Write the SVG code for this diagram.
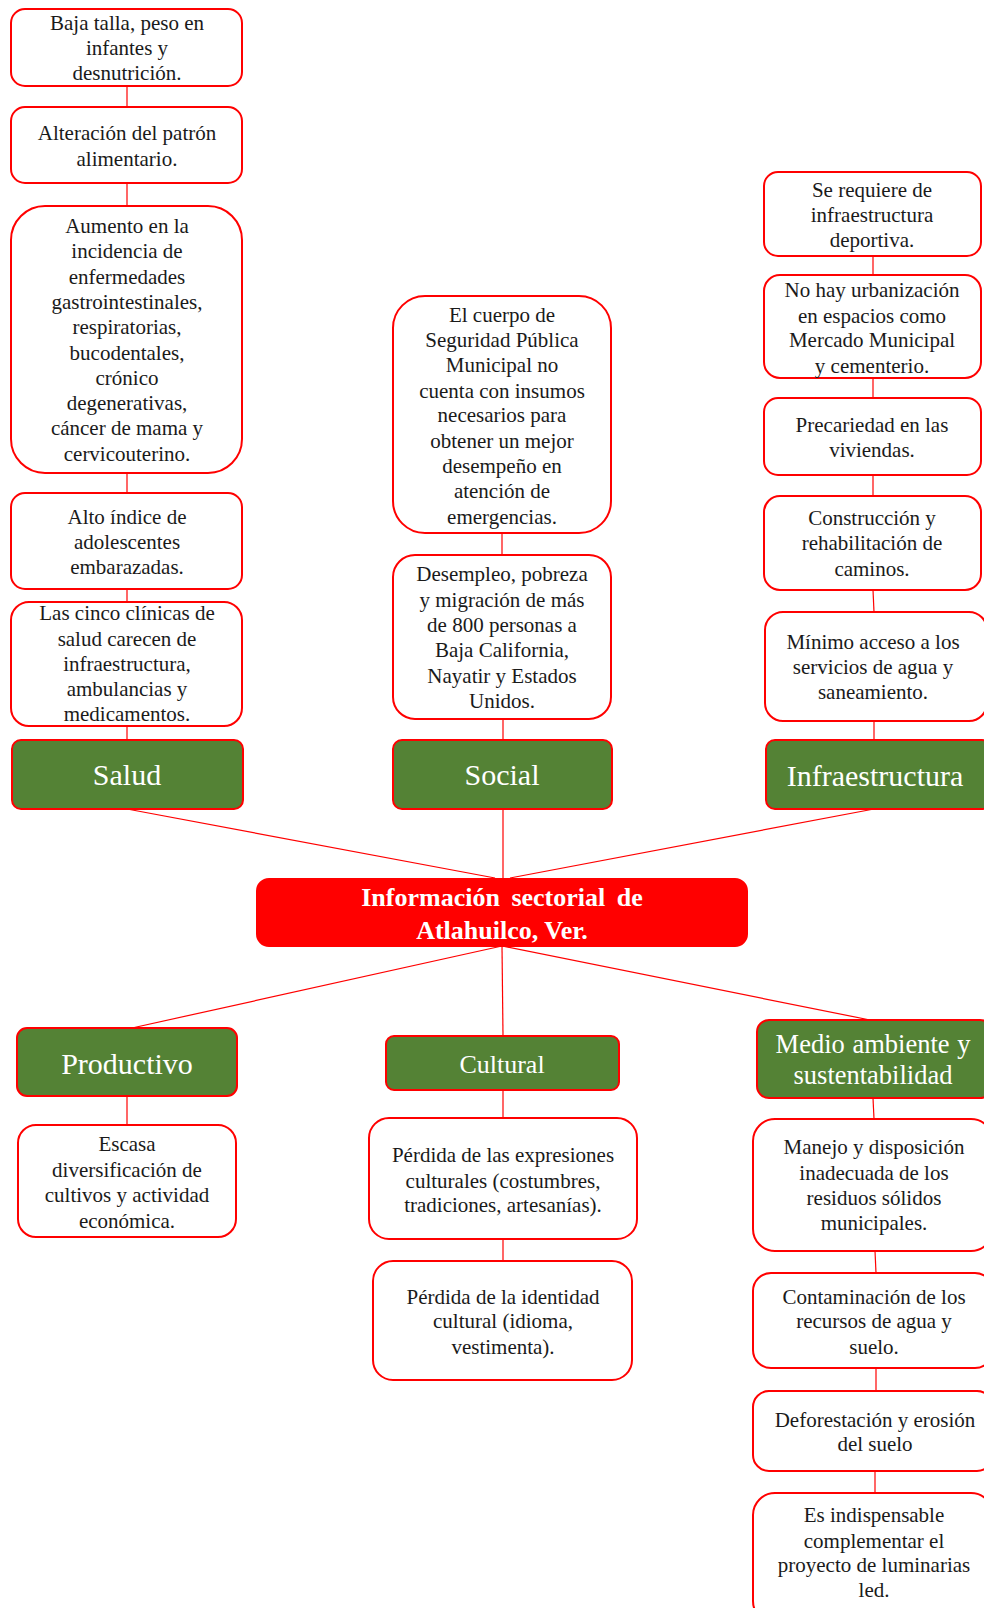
<svg xmlns="http://www.w3.org/2000/svg" width="984" height="1608" viewBox="0 0 984 1608">
<style>
.box{fill:#ffffff;stroke:#ff0000;stroke-width:2}
.hdr{fill:#548235;stroke:#ff0000;stroke-width:2}
.ctr{fill:#ff0000;stroke:#ff0000;stroke-width:2}
.t{font-family:"Liberation Serif","Times New Roman",serif;font-size:21px;fill:#1a1a1a;text-anchor:middle}
.h{font-family:"Liberation Serif","Times New Roman",serif;font-size:30px;fill:#ffffff;text-anchor:middle}
.c{font-family:"Liberation Serif","Times New Roman",serif;font-size:26px;font-weight:bold;fill:#ffffff;text-anchor:middle}
.ln{stroke:#ff0000;stroke-width:1.2;fill:none}
</style>
<rect width="984" height="1608" fill="#ffffff"/>
<g id="connectors">
<line class="ln" x1="127" y1="86" x2="127" y2="107"/>
<line class="ln" x1="127" y1="183" x2="127" y2="206"/>
<line class="ln" x1="127" y1="473" x2="127" y2="493"/>
<line class="ln" x1="127" y1="589" x2="127" y2="602"/>
<line class="ln" x1="127" y1="726" x2="127" y2="740"/>
<line class="ln" x1="502" y1="533" x2="502" y2="555"/>
<line class="ln" x1="503" y1="719" x2="503" y2="740"/>
<line class="ln" x1="873" y1="256" x2="873" y2="275"/>
<line class="ln" x1="873" y1="378" x2="873" y2="398"/>
<line class="ln" x1="873" y1="475" x2="873" y2="496"/>
<line class="ln" x1="873" y1="590" x2="874" y2="612"/>
<line class="ln" x1="874" y1="721" x2="874" y2="740"/>
<line class="ln" x1="127" y1="809" x2="495" y2="878"/>
<line class="ln" x1="503" y1="809" x2="503" y2="878"/>
<line class="ln" x1="874" y1="809" x2="510" y2="878"/>
<line class="ln" x1="502" y1="946" x2="132" y2="1028"/>
<line class="ln" x1="502" y1="946" x2="503" y2="1036"/>
<line class="ln" x1="502" y1="946" x2="870" y2="1020"/>
<line class="ln" x1="127" y1="1096" x2="127" y2="1125"/>
<line class="ln" x1="503" y1="1090" x2="503" y2="1118"/>
<line class="ln" x1="503" y1="1239" x2="503" y2="1261"/>
<line class="ln" x1="873" y1="1098" x2="874" y2="1119"/>
<line class="ln" x1="875" y1="1251" x2="876" y2="1273"/>
<line class="ln" x1="876" y1="1368" x2="876" y2="1391"/>
<line class="ln" x1="875" y1="1471" x2="875" y2="1493"/>
</g>
<g id="salud-1"><rect class="box" x="11" y="9" width="231" height="77" rx="14"/>
<text class="t" x="127" y="29.5">Baja talla, peso en</text><text class="t" x="127" y="55">infantes y</text><text class="t" x="127" y="80">desnutrición.</text></g>
<g id="salud-2"><rect class="box" x="11" y="107" width="231" height="76" rx="14"/>
<text class="t" x="127" y="140">Alteración del patrón</text><text class="t" x="127" y="166">alimentario.</text></g>
<g id="salud-3"><rect class="box" x="11" y="206" width="231" height="267" rx="34"/>
<text class="t" x="127" y="232.5">Aumento en la</text><text class="t" x="127" y="258">incidencia de</text><text class="t" x="127" y="284">enfermedades</text><text class="t" x="127" y="309">gastrointestinales,</text><text class="t" x="127" y="334">respiratorias,</text><text class="t" x="127" y="359.5">bucodentales,</text><text class="t" x="127" y="385">crónico</text><text class="t" x="127" y="410">degenerativas,</text><text class="t" x="127" y="435">cáncer de mama y</text><text class="t" x="127" y="461">cervicouterino.</text></g>
<g id="salud-4"><rect class="box" x="11" y="493" width="231" height="96" rx="14"/>
<text class="t" x="127" y="524">Alto índice de</text><text class="t" x="127" y="549">adolescentes</text><text class="t" x="127" y="574">embarazadas.</text></g>
<g id="salud-5"><rect class="box" x="11" y="602" width="231" height="124" rx="18"/>
<text class="t" x="127" y="620">Las cinco clínicas de</text><text class="t" x="127" y="645.5">salud carecen de</text><text class="t" x="127" y="671">infraestructura,</text><text class="t" x="127" y="696">ambulancias y</text><text class="t" x="127" y="721">medicamentos.</text></g>
<g id="salud"><rect class="hdr" x="12" y="740" width="231" height="69" rx="9"/>
<text class="h" x="127" y="785">Salud</text></g>
<g id="social-1"><rect class="box" x="393" y="296" width="218" height="237" rx="32"/>
<text class="t" x="502" y="322">El cuerpo de</text><text class="t" x="502" y="347">Seguridad Pública</text><text class="t" x="502" y="372">Municipal no</text><text class="t" x="502" y="397.5">cuenta con insumos</text><text class="t" x="502" y="422">necesarios para</text><text class="t" x="502" y="448">obtener un mejor</text><text class="t" x="502" y="473">desempeño en</text><text class="t" x="502" y="498">atención de</text><text class="t" x="502" y="523.5">emergencias.</text></g>
<g id="social-2"><rect class="box" x="393" y="555" width="218" height="164" rx="22"/>
<text class="t" x="502" y="581">Desempleo, pobreza</text><text class="t" x="502" y="607">y migración de más</text><text class="t" x="502" y="632">de 800 personas a</text><text class="t" x="502" y="657">Baja California,</text><text class="t" x="502" y="682.5">Nayatir y Estados</text><text class="t" x="502" y="708">Unidos.</text></g>
<g id="social"><rect class="hdr" x="393" y="740" width="219" height="69" rx="9"/>
<text class="h" x="502" y="785">Social</text></g>
<g id="infra-1"><rect class="box" x="764" y="172" width="217" height="84" rx="14"/>
<text class="t" x="872" y="197">Se requiere de</text><text class="t" x="872" y="222">infraestructura</text><text class="t" x="872" y="247">deportiva.</text></g>
<g id="infra-2"><rect class="box" x="764" y="275" width="217" height="103" rx="16"/>
<text class="t" x="872" y="297">No hay urbanización</text><text class="t" x="872" y="323">en espacios como</text><text class="t" x="872" y="347">Mercado Municipal</text><text class="t" x="872" y="373">y cementerio.</text></g>
<g id="infra-3"><rect class="box" x="764" y="398" width="217" height="77" rx="14"/>
<text class="t" x="872" y="432">Precariedad en las</text><text class="t" x="872" y="457">viviendas.</text></g>
<g id="infra-4"><rect class="box" x="764" y="496" width="217" height="94" rx="16"/>
<text class="t" x="872" y="525">Construcción y</text><text class="t" x="872" y="550">rehabilitación de</text><text class="t" x="872" y="576">caminos.</text></g>
<g id="infra-5"><rect class="box" x="765" y="612" width="222" height="109" rx="18"/>
<text class="t" x="873" y="649">Mínimo acceso a los</text><text class="t" x="873" y="674">servicios de agua y</text><text class="t" x="873" y="699">saneamiento.</text></g>
<g id="infraestructura"><rect class="hdr" x="766" y="740" width="225" height="69" rx="9"/>
<text class="h" x="875" y="786">Infraestructura</text></g>
<g id="centro"><rect class="ctr" x="257" y="879" width="490" height="67" rx="12"/>
<text class="c" x="502" y="906" word-spacing="5">Información sectorial de</text><text class="c" x="502" y="939">Atlahuilco, Ver.</text></g>
<g id="productivo"><rect class="hdr" x="17" y="1028" width="220" height="68" rx="10"/>
<text class="h" x="127" y="1074">Productivo</text></g>
<g id="productivo-1"><rect class="box" x="18" y="1125" width="218" height="112" rx="18"/>
<text class="t" x="127" y="1151">Escasa</text><text class="t" x="127" y="1176.5">diversificación de</text><text class="t" x="127" y="1202">cultivos y actividad</text><text class="t" x="127" y="1228">económica.</text></g>
<g id="cultural"><rect class="hdr" x="386" y="1036" width="233" height="54" rx="8"/>
<text class="h" x="502" y="1073" style="font-size:26px">Cultural</text></g>
<g id="cultural-1"><rect class="box" x="369" y="1118" width="268" height="121" rx="20"/>
<text class="t" x="503" y="1162">Pérdida de las expresiones</text><text class="t" x="503" y="1188">culturales (costumbres,</text><text class="t" x="503" y="1212">tradiciones, artesanías).</text></g>
<g id="cultural-2"><rect class="box" x="373" y="1261" width="259" height="119" rx="20"/>
<text class="t" x="503" y="1304">Pérdida de la identidad</text><text class="t" x="503" y="1328">cultural (idioma,</text><text class="t" x="503" y="1354">vestimenta).</text></g>
<g id="medio"><rect class="hdr" x="757" y="1020" width="235" height="78" rx="12"/>
<text class="h" x="873" y="1053" style="font-size:26.5px" word-spacing="1">Medio ambiente y</text><text class="h" x="873" y="1084" style="font-size:26.5px">sustentabilidad</text></g>
<g id="medio-1"><rect class="box" x="753" y="1119" width="240" height="132" rx="22"/>
<text class="t" x="874" y="1154">Manejo y disposición</text><text class="t" x="874" y="1180">inadecuada de los</text><text class="t" x="874" y="1205">residuos sólidos</text><text class="t" x="874" y="1230">municipales.</text></g>
<g id="medio-2"><rect class="box" x="753" y="1273" width="240" height="95" rx="18"/>
<text class="t" x="874" y="1304">Contaminación de los</text><text class="t" x="874" y="1328">recursos de agua y</text><text class="t" x="874" y="1354">suelo.</text></g>
<g id="medio-3"><rect class="box" x="753" y="1391" width="240" height="80" rx="16"/>
<text class="t" x="875" y="1427">Deforestación y erosión</text><text class="t" x="875" y="1451">del suelo</text></g>
<g id="medio-4"><rect class="box" x="753" y="1493" width="240" height="130" rx="22"/>
<text class="t" x="874" y="1522">Es indispensable</text><text class="t" x="874" y="1548">complementar el</text><text class="t" x="874" y="1572">proyecto de luminarias</text><text class="t" x="874" y="1597">led.</text></g>
</svg>
